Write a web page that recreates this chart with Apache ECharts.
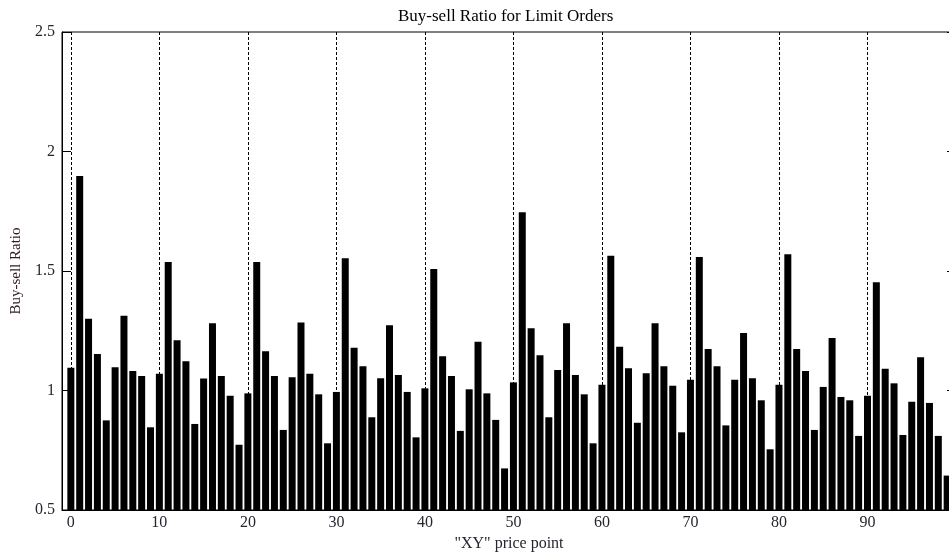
<!DOCTYPE html>
<html>
<head>
<meta charset="utf-8">
<script src="https://cdn.jsdelivr.net/npm/echarts@6/dist/echarts.min.js"></script>
<style>
  html, body { margin: 0; padding: 0; background: #fff; }
  #chart { width: 949px; height: 560px; }
</style>
</head>
<body>
<div id="chart"></div>
<script>
// price points 0..99
var pricePoints = [
  0, 1, 2, 3, 4, 5, 6, 7, 8, 9,
  10, 11, 12, 13, 14, 15, 16, 17, 18, 19,
  20, 21, 22, 23, 24, 25, 26, 27, 28, 29,
  30, 31, 32, 33, 34, 35, 36, 37, 38, 39,
  40, 41, 42, 43, 44, 45, 46, 47, 48, 49,
  50, 51, 52, 53, 54, 55, 56, 57, 58, 59,
  60, 61, 62, 63, 64, 65, 66, 67, 68, 69,
  70, 71, 72, 73, 74, 75, 76, 77, 78, 79,
  80, 81, 82, 83, 84, 85, 86, 87, 88, 89,
  90, 91, 92, 93, 94, 95, 96, 97, 98, 99
];

// buy-sell ratio
var buySellRatio = [
  1.095, 1.897, 1.300, 1.153, 0.875, 1.097, 1.313, 1.082, 1.061, 0.846,
  1.070, 1.538, 1.210, 1.122, 0.860, 1.050, 1.281, 1.061, 0.978, 0.773,
  0.988, 1.538, 1.164, 1.061, 0.835, 1.055, 1.285, 1.070, 0.984, 0.779,
  0.994, 1.553, 1.179, 1.101, 0.888, 1.051, 1.273, 1.065, 0.994, 0.804,
  1.009, 1.508, 1.143, 1.061, 0.831, 1.005, 1.204, 0.988, 0.877, 0.674,
  1.034, 1.746, 1.260, 1.147, 0.888, 1.086, 1.281, 1.065, 0.984, 0.779,
  1.024, 1.564, 1.183, 1.093, 0.865, 1.072, 1.281, 1.101, 1.020, 0.825,
  1.045, 1.559, 1.174, 1.101, 0.854, 1.045, 1.241, 1.051, 0.959, 0.754,
  1.024, 1.570, 1.174, 1.082, 0.835, 1.015, 1.220, 0.973, 0.959, 0.810,
  0.978, 1.453, 1.091, 1.030, 0.814, 0.953, 1.139, 0.948, 0.810, 0.644
];

var xTickValues = [0, 10, 20, 30, 40, 50, 60, 70, 80, 90];

var barData = pricePoints.map(function (p, i) {
  return [p, buySellRatio[i]];
});

var fontName = 'Liberation Serif';
var textColor = '#262630';

var chart = echarts.init(document.getElementById('chart'), null, {
  renderer: 'canvas'
});

var option = {
  animation: false,
  backgroundColor: '#fff',
  title: {
    text: 'Buy-sell Ratio for Limit Orders',
    left: 393,
    top: 3,
    textStyle: {
      fontFamily: fontName,
      fontSize: 17,
      fontWeight: 'normal',
      color: '#000'
    }
  },
  grid: {
    left: 62,
    top: 32,
    right: -7,
    bottom: 50,
    outerBoundsMode: 'none',
    show: true,
    borderColor: '#000',
    borderWidth: 1,
    backgroundColor: '#fff'
  },
  xAxis: {
    type: 'value',
    min: -1,
    max: 100,
    name: '"XY" price point',
    nameLocation: 'middle',
    nameGap: 19,
    nameTextStyle: {
      fontFamily: fontName,
      fontSize: 16,
      color: textColor
    },
    axisLine: { show: true, onZero: false, lineStyle: { color: '#000' } },
    axisTick: {
      show: true,
      inside: true,
      length: 8,
      customValues: xTickValues,
      lineStyle: { color: '#000' }
    },
    axisLabel: {
      customValues: xTickValues,
      fontFamily: fontName,
      fontSize: 16,
      color: textColor,
      margin: 5
    },
    splitLine: {
      show: true,
      lineStyle: { color: '#000', width: 1, type: [3, 2] }
    }
  },
  yAxis: [
    {
      type: 'value',
      min: 0.5,
      max: 2.5,
      interval: 0.5,
      name: 'Buy-sell Ratio',
      nameLocation: 'middle',
      nameGap: 38,
      nameRotate: 90,
      nameTextStyle: {
        fontFamily: fontName,
        fontSize: 15,
        color: '#2e1c1c'
      },
      axisLine: { show: true, onZero: false, lineStyle: { color: '#000' } },
      axisTick: { show: true, inside: true, length: 9, lineStyle: { color: '#000' } },
      axisLabel: {
        fontFamily: fontName,
        fontSize: 16,
        color: textColor,
        margin: 7
      },
      splitLine: { show: false }
    },
    {
      type: 'value',
      position: 'right',
      min: 0.5,
      max: 2.5,
      interval: 0.5,
      axisLine: { show: true, onZero: false, lineStyle: { color: '#000' } },
      axisTick: { show: true, inside: true, length: 9, lineStyle: { color: '#000' } },
      axisLabel: { show: false },
      splitLine: { show: false }
    }
  ],
  series: [
    {
      name: 'Buy-sell Ratio',
      type: 'bar',
      data: barData,
      barWidth: 7,
      itemStyle: { color: '#000' },
      silent: true
    }
  ]
};

chart.setOption(option);
</script>
</body>
</html>
